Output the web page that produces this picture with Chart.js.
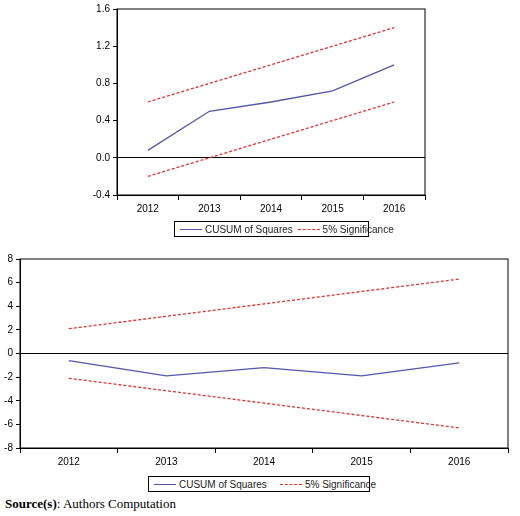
<!DOCTYPE html><html><head><script src="https://cdn.jsdelivr.net/npm/chart.js@4"></script>
<style>body{margin:0;background:#fff;width:520px;height:516px;position:relative;font-family:"Liberation Sans",Arial,sans-serif}
canvas{position:absolute}
.lg{position:absolute;border:1px solid #000;font-size:10px;display:flex;align-items:center;height:16px;padding:0 3px;box-sizing:border-box;color:#222;white-space:nowrap}
.ln{display:inline-block;flex-shrink:0;width:22px;margin:0 3px 0 2px;border-top:1.5px solid #5555aa}
.dl{border-top:1.5px dashed #e03030}
.src{position:absolute;left:5px;top:496px;font-family:"Liberation Serif",serif;font-size:13px}
</style></head><body>
<div style="position:absolute;left:0;top:0;width:520px;height:240px"><canvas id="c1"></canvas></div>
<div style="position:absolute;left:0;top:250px;width:520px;height:220px"><canvas id="c2"></canvas></div>
<div class="lg" style="left:174px;top:221px;width:195px"><span class="ln"></span>CUSUM of Squares&nbsp;<span class="ln dl"></span>5% Significance</div>
<div class="lg" style="left:148px;top:476px;width:222px"><span class="ln"></span>CUSUM of Squares&nbsp;&nbsp;&nbsp;&nbsp;<span class="ln dl"></span>5% Significance</div>
<div class="src"><b>Source(s)</b>: Authors Computation</div>
<script>
const years=["2012","2013","2014","2015","2016"];
const cusumSq1=[0.08,0.5,0.6,0.72,1.0];
const upper1=[0.6,0.8,1.0,1.2,1.4];
const lower1=[-0.2,0.0,0.2,0.4,0.6];
const cusumSq2=[-0.6,-1.9,-1.2,-1.9,-0.8];
const upper2=[2.1,3.15,4.2,5.25,6.3];
const lower2=[-2.1,-3.15,-4.2,-5.25,-6.3];
const tickFont={family:"Liberation Sans",size:10};
function mk(id,c,u,l,ymin,ymax,step,yw,pad,xh){
 new Chart(document.getElementById(id),{type:'line',
 data:{labels:years,datasets:[
  {data:c,borderColor:'#5555aa',borderWidth:1.3,pointRadius:0,tension:0},
  {data:u,borderColor:'#e03030',borderWidth:1.3,borderDash:[3,2],pointRadius:0},
  {data:l,borderColor:'#e03030',borderWidth:1.3,borderDash:[3,2],pointRadius:0}]},
 options:{responsive:true,maintainAspectRatio:false,animation:false,
  layout:{padding:pad},
  plugins:{legend:{display:false},tooltip:{enabled:false}},
  scales:{
   x:{offset:true,afterFit:s=>{s.height=xh},grid:{offset:true,drawOnChartArea:false,tickLength:5,color:'#000'},border:{color:'#000'},ticks:{color:'#000',font:tickFont}},
   y:{min:ymin,max:ymax,afterFit:s=>{s.width=yw},ticks:{stepSize:step,color:'#000',font:tickFont,callback:v=>Math.abs(v)<1e-9?(step<1?'0.0':'0'):(step<1?v.toFixed(1):v)},
      grid:{color:ctx=>Math.abs(ctx.tick.value)<1e-9?'#000':'rgba(0,0,0,0)',tickColor:'#000',tickLength:4},border:{color:'#000'}}}},
 plugins:[{id:'box',afterDraw(ch){const a=ch.chartArea,g=ch.ctx;g.save();g.strokeStyle='#000';g.lineWidth=1;g.strokeRect(a.left,a.top,a.right-a.left,a.bottom-a.top);g.restore();}}]});
}
mk('c1',cusumSq1,upper1,lower1,-0.4,1.6,0.4,117,{left:0,right:95,top:5,bottom:0},45);
mk('c2',cusumSq2,upper2,lower2,-8,8,2,20,{left:0,right:12,top:7,bottom:0},22);
</script></body></html>
